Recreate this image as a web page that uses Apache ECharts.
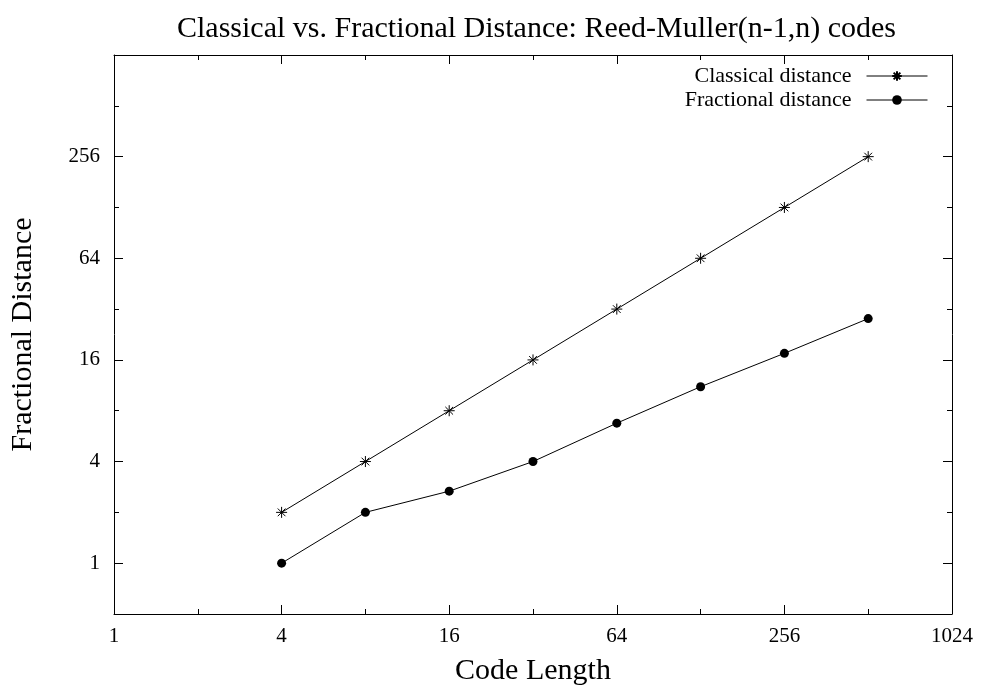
<!DOCTYPE html>
<html>
<head>
<meta charset="utf-8">
<script src="https://cdn.jsdelivr.net/npm/echarts@6/dist/echarts.min.js"></script>
<style>
  html, body { margin: 0; padding: 0; background: #fff; }
  #chart { width: 981px; height: 688px; }
</style>
</head>
<body>
<div id="chart"></div>
<script>
// values
const codeLengths = [4, 8, 16, 32, 64, 128, 256, 512];
const classicalDist = [2, 4, 8, 16, 32, 64, 128, 256];
const fractionalDist = [1, 2, 2.67, 4, 6.75, 11.1, 17.5, 28.1];
const yMajorTicks = [1, 4, 16, 64, 256];

const FONT = '"Liberation Serif", "DejaVu Serif", serif';
const asterisk = 'path://M5,0L5,10M0,5L10,5M1.5,1.5L8.5,8.5M8.5,1.5L1.5,8.5';

const chart = echarts.init(document.getElementById('chart'));

const xBase = { type: 'log', logBase: 2, min: 1, max: 1024, gridIndex: 0, splitLine: { show: false } };
const yBase = { type: 'log', logBase: 2, min: 0.5, max: 1024, gridIndex: 0, splitLine: { show: false } };
const frameLine = { show: true, lineStyle: { color: '#000', width: 1 } };
const noLine = { show: false };
const majorTick = { show: true, inside: true, length: 9, lineStyle: { color: '#000', width: 1 } };
const minorTick = { show: true, inside: true, length: 5, lineStyle: { color: '#000', width: 1 } };
const plain = v => String(v);

const legendText = { fontFamily: FONT, fontSize: 22, color: '#000', padding: [0, 10, 0, 0] };
const legendCommon = {
  right: 48,
  itemWidth: 61, itemHeight: 12,
  align: 'right',
  lineStyle: { width: 1 },
  textStyle: legendText
};

chart.setOption({
  animation: false,
  backgroundColor: '#fff',
  title: {
    text: 'Classical vs. Fractional Distance: Reed-Muller(n-1,n) codes',
    left: 172,
    top: 9,
    textStyle: { fontFamily: FONT, fontSize: 30, fontWeight: 'normal', color: '#000' }
  },
  grid: { left: 114, top: 55, right: 29, bottom: 74, outerBoundsMode: 'none', containLabel: false },
  legend: [
    Object.assign({ data: ['Classical distance'], top: 60 }, legendCommon),
    Object.assign({ data: ['Fractional distance'], top: 84 }, legendCommon)
  ],
  xAxis: [
    Object.assign({}, xBase, {
      position: 'bottom', interval: 2,
      axisLine: frameLine, axisTick: majorTick,
      axisLabel: { color: '#000', fontFamily: FONT, fontSize: 21, margin: 12, formatter: plain },
      name: 'Code Length', nameLocation: 'middle', nameGap: 42,
      nameTextStyle: { fontFamily: FONT, fontSize: 30, color: '#000' }
    }),
    Object.assign({}, xBase, { position: 'bottom', interval: 1, axisLine: noLine, axisTick: minorTick, axisLabel: { show: false } }),
    Object.assign({}, xBase, { position: 'top', interval: 2, axisLine: frameLine, axisTick: majorTick, axisLabel: { show: false } }),
    Object.assign({}, xBase, { position: 'top', interval: 1, axisLine: noLine, axisTick: minorTick, axisLabel: { show: false } })
  ],
  yAxis: [
    Object.assign({}, yBase, {
      position: 'left',
      axisLine: frameLine,
      axisTick: Object.assign({}, majorTick, { customValues: yMajorTicks }),
      axisLabel: { color: '#000', fontFamily: FONT, fontSize: 21, margin: 14, customValues: yMajorTicks, formatter: plain },
      name: 'Fractional Distance', nameLocation: 'middle', nameGap: 76,
      nameTextStyle: { fontFamily: FONT, fontSize: 30, color: '#000' }
    }),
    Object.assign({}, yBase, { position: 'left', interval: 1, axisLine: noLine, axisTick: minorTick, axisLabel: { show: false } }),
    Object.assign({}, yBase, {
      position: 'right', axisLine: frameLine,
      axisTick: Object.assign({}, majorTick, { customValues: yMajorTicks }),
      axisLabel: { show: false }
    }),
    Object.assign({}, yBase, { position: 'right', interval: 1, axisLine: noLine, axisTick: minorTick, axisLabel: { show: false } })
  ],
  series: [
    {
      name: 'Classical distance',
      type: 'line',
      data: codeLengths.map((x, i) => [x, classicalDist[i]]),
      symbol: asterisk,
      symbolSize: 11,
      lineStyle: { color: '#000', width: 1 },
      itemStyle: { color: '#000', borderColor: '#000', borderWidth: 1 }
    },
    {
      name: 'Fractional distance',
      type: 'line',
      data: codeLengths.map((x, i) => [x, fractionalDist[i]]),
      symbol: 'circle',
      symbolSize: 9,
      lineStyle: { color: '#000', width: 1 },
      itemStyle: { color: '#000', borderWidth: 0 }
    }
  ]
});
</script>
</body>
</html>
